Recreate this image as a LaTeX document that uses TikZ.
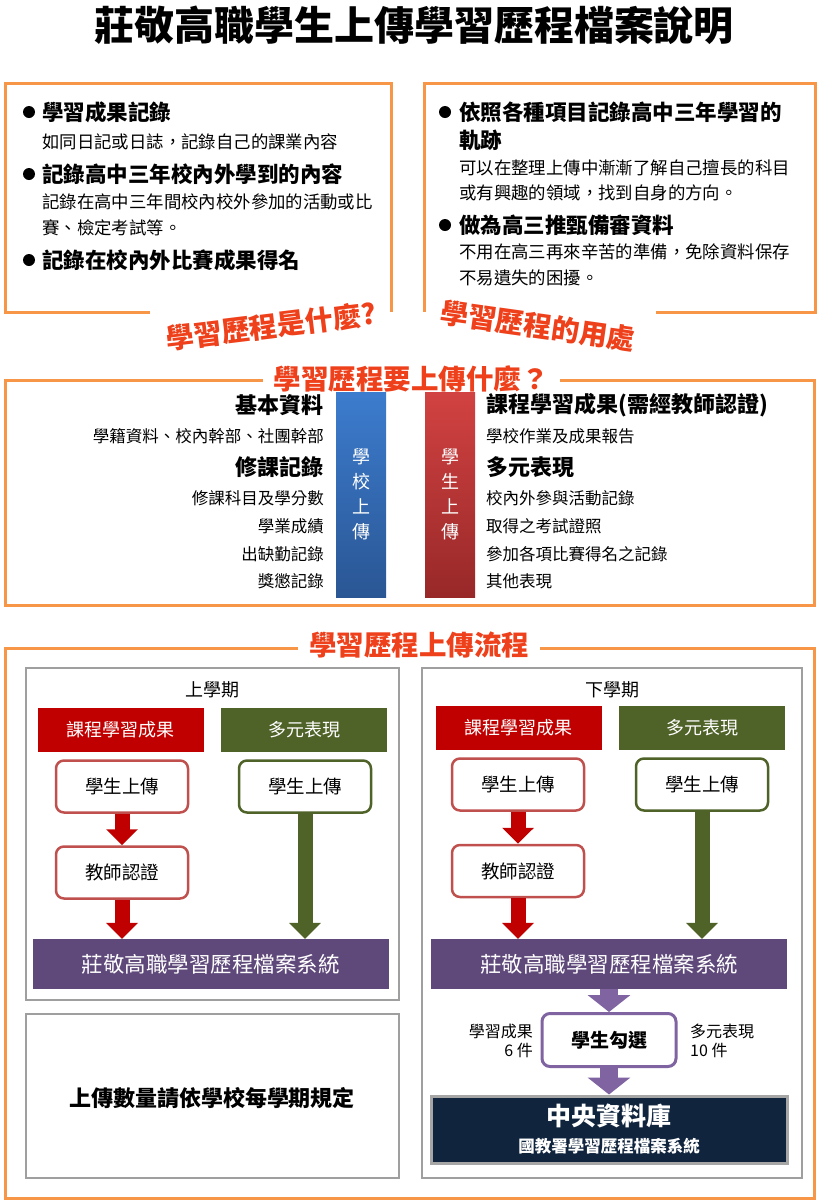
\documentclass[tikz,border=0pt]{standalone}
\usepackage{fontspec}
\setmainfont{Noto Sans CJK TC}
\usetikzlibrary{arrows.meta}

\definecolor{boxorange}{RGB}{247,150,70}
\definecolor{headred}{RGB}{238,64,26}
\definecolor{flowred}{RGB}{192,0,0}
\definecolor{flowgreen}{RGB}{79,98,40}
\definecolor{flowpurple}{RGB}{95,73,122}
\definecolor{pickpurple}{RGB}{128,100,162}
\definecolor{stepred}{RGB}{192,80,77}
\definecolor{dbnavy}{RGB}{16,36,62}
\definecolor{barblue}{RGB}{60,124,206}
\definecolor{barbluedark}{RGB}{42,86,148}
\definecolor{barred}{RGB}{210,66,66}
\definecolor{barreddark}{RGB}{152,40,40}

\newcommand{\fsz}[1]{\fontsize{#1}{#1}\selectfont}

\tikzset{
  every node/.style = {inner sep = 0pt},
  orangeline/.style = {draw = boxorange, line width = 3pt},
  grayframe/.style = {draw = gray!75, line width = 2pt, fill = white},
  bulletdot/.style = {circle, fill = black, minimum size = 12pt},
  headitem/.style = {anchor = west, font = \bfseries\fsz{21.5}},
  plainitem/.style = {anchor = west, font = \fsz{17.4}},
  headtitle/.style = {fill = white, text = headred, font = \bfseries\fsz{27.5}, inner xsep = 11pt, inner ysep = 2pt},
  leftlist/.style = {anchor = east, font = \fsz{16.5}},
  rightlist/.style = {anchor = west, font = \fsz{16.5}},
  uploadbar/.style = {minimum width = 50pt, minimum height = 205pt, text = white, align = center, font = \fontsize{18}{25}\selectfont},
  catbox/.style = {minimum width = 166pt, minimum height = 44pt, text = white, font = \fsz{18}},
  stepbox/.style = {draw, fill = white, rounded corners = 8pt, line width = 2.5pt, minimum width = 132pt, minimum height = 52pt, font = \fsz{18.5}},
  sysbox/.style = {fill = flowpurple, text = white, minimum width = 356pt, minimum height = 50pt, font = \fsz{21.5}},
  bigarrow/.style = {line width = 15pt, -{Triangle[width = 31pt, length = 16pt]}},
  pickarrow/.style = {draw = pickpurple, line width = 18pt, -{Triangle[width = 42pt, length = 17pt]}}
}

\begin{document}
\begin{tikzpicture}[x = 1pt, y = -1pt]
\useasboundingbox (0,0) rectangle (818,1200);

\node[font = \bfseries\fsz{40}] (title) at (414,25) {莊敬高職學生上傳學習歷程檔案說明};

\draw[orangeline] (150,312) -- (5,312) -- (5,83) -- (391,83) -- (391,312);
\draw[orangeline] (656,312) -- (815,312) -- (815,83) -- (424,83) -- (424,312);

\node[bulletdot] (dota) at (29,112) {};
\node[headitem] (whata) at (42,112) {學習成果記錄};
\node[plainitem] (whatan) at (42,142) {如同日記或日誌，記錄自己的課業內容};
\node[bulletdot] (dotb) at (29,174) {};
\node[headitem] (whatb) at (42,174) {記錄高中三年校內外學到的內容};
\node[plainitem] (whatbn) at (42,202) {記錄在高中三年間校內校外參加的活動或比};
\node[plainitem] (whatbm) at (42,228) {賽、檢定考試等。};
\node[bulletdot] (dotc) at (29,260) {};
\node[headitem] (whatc) at (42,260) {記錄在校內外比賽成果得名};

\node[bulletdot] (dotd) at (445,112) {};
\node[headitem] (usea) at (459,112) {依照各種項目記錄高中三年學習的};
\node[headitem] (useam) at (459,140) {軌跡};
\node[plainitem] (usean) at (459,168) {可以在整理上傳中漸漸了解自己擅長的科目};
\node[plainitem] (useao) at (459,193) {或有興趣的領域，找到自身的方向。};
\node[bulletdot] (dote) at (445,225) {};
\node[headitem] (useb) at (459,225) {做為高三推甄備審資料};
\node[plainitem] (usebn) at (459,252) {不用在高三再來辛苦的準備，免除資料保存};
\node[plainitem] (usebm) at (459,278) {不易遺失的困擾。};

\node[rotate = 7, text = headred, font = \bfseries\fsz{28}] (whatis) at (271,326) {學習歷程是什麼?};
\node[rotate = -8, text = headred, font = \bfseries\fsz{28}] (useof) at (538,326) {學習歷程的用處};

\draw[orangeline] (5,380) rectangle (814,605);
\node[headtitle] (upwhat) at (411,379) {學習歷程要上傳什麼？};

\node[uploadbar, top color = barblue, bottom color = barbluedark] (schoolbar) at (361,494.5) {學\\校\\上\\傳};
\node[uploadbar, top color = barred, bottom color = barreddark] (studentbar) at (450,494.5) {學\\生\\上\\傳};

\node[leftlist, font = \bfseries\fsz{22}] (basic) at (324,405) {基本資料};
\node[leftlist] (basicn) at (324,436) {學籍資料、校內幹部、社團幹部};
\node[leftlist, font = \bfseries\fsz{22}] (course) at (324,467) {修課記錄};
\node[leftlist] (coursea) at (324,498) {修課科目及學分數};
\node[leftlist] (courseb) at (324,526) {學業成績};
\node[leftlist] (coursec) at (324,554) {出缺勤記錄};
\node[leftlist] (coursed) at (324,581) {獎懲記錄};

\node[rightlist, font = \bfseries\fsz{22}] (result) at (486,405) {課程學習成果(需經教師認證)};
\node[rightlist] (resultn) at (486,436) {學校作業及成果報告};
\node[rightlist, font = \bfseries\fsz{22}] (multi) at (486,467) {多元表現};
\node[rightlist] (multia) at (486,498) {校內外參與活動記錄};
\node[rightlist] (multib) at (486,526) {取得之考試證照};
\node[rightlist] (multic) at (486,554) {參加各項比賽得名之記錄};
\node[rightlist] (multid) at (486,581) {其他表現};

\draw[orangeline] (5,648) rectangle (814,1198);
\node[headtitle] (flow) at (419,645) {學習歷程上傳流程};

\draw[grayframe] (26,668) rectangle (399,1000);
\draw[grayframe] (26,1014) rectangle (399,1178);
\draw[grayframe] (422,668) rectangle (802,1178);

\node[font = \fsz{18}] (semone) at (212,690) {上學期};
\node[catbox, fill = flowred] (resone) at (120.5,730) {課程學習成果};
\node[catbox, fill = flowgreen] (multone) at (304,730) {多元表現};
\node[stepbox, draw = stepred] (upone) at (122,786.5) {學生上傳};
\node[stepbox, draw = flowgreen] (upmone) at (305,786.5) {學生上傳};
\node[stepbox, draw = stepred] (certone) at (122,872.5) {教師認證};
\node[sysbox] (sysone) at (210.5,964) {莊敬高職學習歷程檔案系統};
\draw[bigarrow, draw = flowred] (upone) -- (certone);
\draw[bigarrow, draw = flowred] (certone) -- (certone |- sysone.north);
\draw[bigarrow, draw = flowgreen] (upmone) -- (upmone |- sysone.north);

\node[font = \bfseries\fsz{22}] (rule) at (212,1098) {上傳數量請依學校每學期規定};

\node[font = \fsz{18}] (semtwo) at (612,690) {下學期};
\node[catbox, fill = flowred] (restwo) at (518.5,728) {課程學習成果};
\node[catbox, fill = flowgreen] (multtwo) at (702,728) {多元表現};
\node[stepbox, draw = stepred] (uptwo) at (518,784.5) {學生上傳};
\node[stepbox, draw = flowgreen] (upmtwo) at (702,784.5) {學生上傳};
\node[stepbox, draw = stepred] (certtwo) at (518,871) {教師認證};
\node[sysbox] (systwo) at (609,964) {莊敬高職學習歷程檔案系統};
\draw[bigarrow, draw = flowred] (uptwo) -- (certtwo);
\draw[bigarrow, draw = flowred] (certtwo) -- (certtwo |- systwo.north);
\draw[bigarrow, draw = flowgreen] (upmtwo) -- (upmtwo |- systwo.north);

\node[stepbox, draw = pickpurple, line width = 3pt, minimum width = 134pt, minimum height = 53pt, font = \bfseries\fsz{19}] (pick) at (609,1040) {學生勾選};
\node[anchor = east, align = right, font = \fontsize{16}{19}\selectfont] (pickres) at (533,1041) {學習成果\\6 件};
\node[anchor = west, align = left, font = \fontsize{16}{19}\selectfont] (pickmulti) at (690,1041) {多元表現\\10 件};
\node[fill = dbnavy, draw = gray!70, line width = 3pt, minimum width = 356pt, minimum height = 67pt, text = white, align = center, font = \bfseries\fontsize{16.5}{27}\selectfont] (db) at (609,1129.5) {{\fsz{25}中央資料庫}\\國教署學習歷程檔案系統};
\draw[pickarrow] (systwo) -- (pick);
\draw[pickarrow] (pick) -- (db);
\end{tikzpicture}
\end{document}
